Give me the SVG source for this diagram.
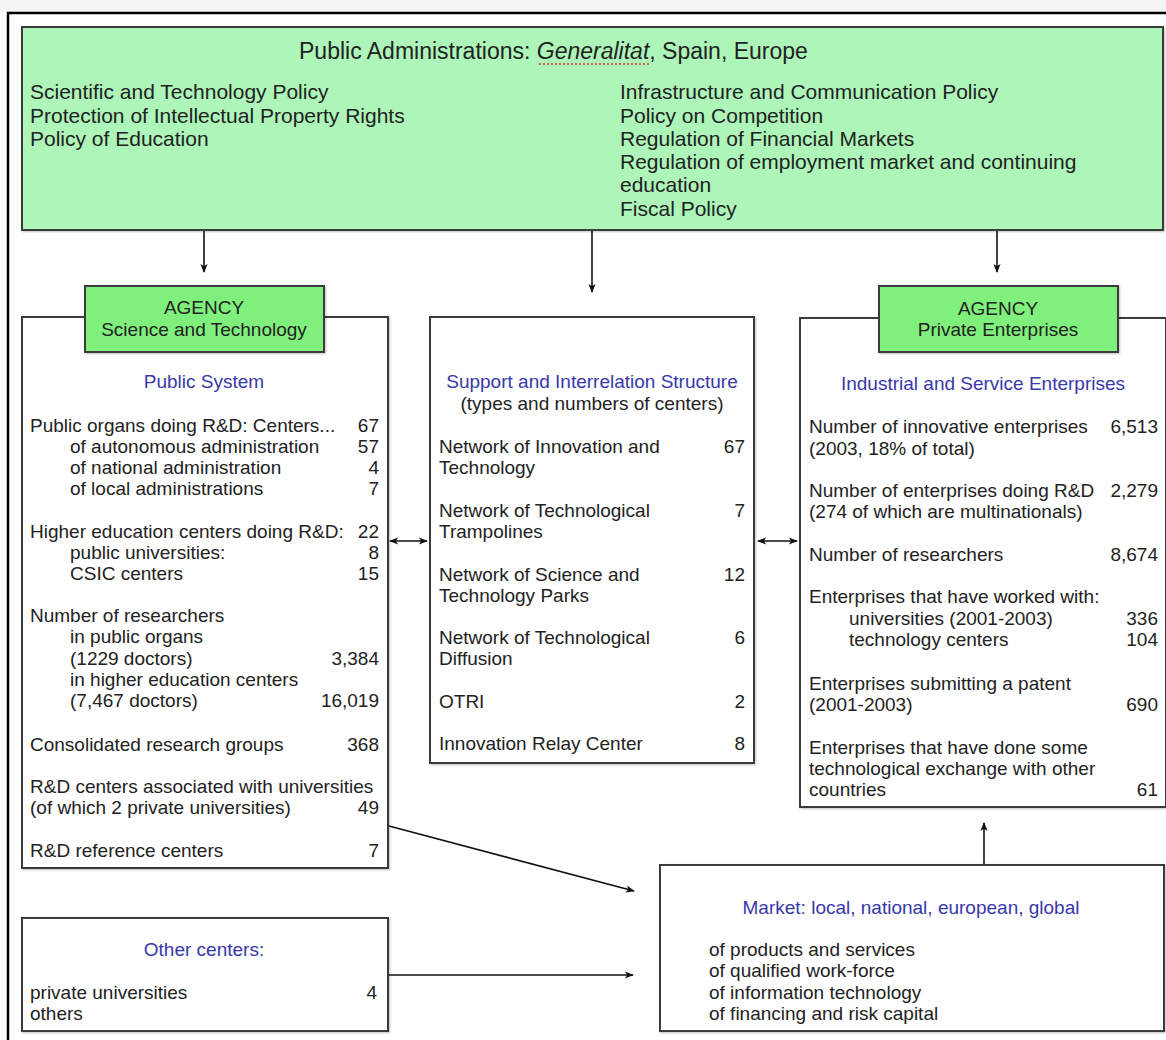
<svg xmlns="http://www.w3.org/2000/svg" width="1166" height="1040" viewBox="0 0 1166 1040">
  <style>
    text { font-family: "Liberation Sans", Arial, sans-serif; fill: #222; }
    .t { font-size: 19px; }
    .big { font-size: 21px; }
    .title { font-size: 23px; }
    .head { font-size: 19px; fill: #3838aa; text-anchor: middle; }
    .mid { text-anchor: middle; }
    .num { text-anchor: end; }
    .box { fill: #fff; stroke: #3a3a3a; stroke-width: 2; }
    .agency { fill: #80f07c; stroke: #3a3a3a; stroke-width: 2; }
    .policy { fill: #adf5b9; stroke: #3a3a3a; stroke-width: 2; }
    .conn { stroke: #111; stroke-width: 1.6; fill: none; }
  </style>
  <defs>
    <filter id="soft" x="-5%" y="-5%" width="110%" height="110%">
      <feDropShadow dx="1" dy="1" stdDeviation="1" flood-color="#000" flood-opacity="0.25"/>
    </filter>
    <marker id="ah" viewBox="0 0 10 10" refX="9" refY="5" markerWidth="10" markerHeight="9" orient="auto-start-reverse" markerUnits="userSpaceOnUse">
      <path d="M0,1 L10,5 L0,9 L2.5,5 z" fill="#111"/>
    </marker>
  </defs>

  <!-- page background and outer frame -->
  <rect x="0" y="0" width="1166" height="1040" fill="#fff"/>
  <rect x="0" y="0" width="1166" height="12" fill="#f3f3f3"/>
  <rect x="8" y="13" width="1170" height="1040" fill="#fff" stroke="#000" stroke-width="2.5"/>

  <!-- top policy box -->
  <g id="public-administrations">
    <rect class="policy" x="22" y="27" width="1141" height="203" filter="url(#soft)"/>
    <text class="title" x="299" y="59">Public Administrations: <tspan font-style="italic">Generalitat</tspan>, Spain, Europe</text>
    <line x1="539" y1="64" x2="649" y2="64" stroke="#d33" stroke-width="1.5" stroke-dasharray="2,2"/>
    <text class="big" x="30" y="99">Scientific and Technology Policy</text>
    <text class="big" x="30" y="123">Protection of Intellectual Property Rights</text>
    <text class="big" x="30" y="146">Policy of Education</text>
    <text class="big" x="620" y="99">Infrastructure and Communication Policy</text>
    <text class="big" x="620" y="123">Policy on Competition</text>
    <text class="big" x="620" y="146">Regulation of Financial Markets</text>
    <text class="big" x="620" y="169">Regulation of employment market and continuing</text>
    <text class="big" x="620" y="192">education</text>
    <text class="big" x="620" y="216">Fiscal Policy</text>
  </g>

  <!-- public system -->
  <g id="public-system">
    <rect class="box" x="22" y="317" width="366" height="551" filter="url(#soft)"/>
    <text class="head" x="204" y="388">Public System</text>
    <text class="t" x="30" y="432">Public organs doing R&amp;D: Centers...</text><text class="t num" x="379" y="432">67</text>
    <text class="t" x="70" y="453">of autonomous administration</text><text class="t num" x="379" y="453">57</text>
    <text class="t" x="70" y="474">of national administration</text><text class="t num" x="379" y="474">4</text>
    <text class="t" x="70" y="495">of local administrations</text><text class="t num" x="379" y="495">7</text>
    <text class="t" x="30" y="538">Higher education centers doing R&amp;D:</text><text class="t num" x="379" y="538">22</text>
    <text class="t" x="70" y="559">public universities:</text><text class="t num" x="379" y="559">8</text>
    <text class="t" x="70" y="580">CSIC centers</text><text class="t num" x="379" y="580">15</text>
    <text class="t" x="30" y="622">Number of researchers</text>
    <text class="t" x="70" y="643">in public organs</text>
    <text class="t" x="70" y="665">(1229 doctors)</text><text class="t num" x="379" y="665">3,384</text>
    <text class="t" x="70" y="686">in higher education centers</text>
    <text class="t" x="70" y="707">(7,467 doctors)</text><text class="t num" x="379" y="707">16,019</text>
    <text class="t" x="30" y="751">Consolidated research groups</text><text class="t num" x="379" y="751">368</text>
    <text class="t" x="30" y="793">R&amp;D centers associated with universities</text>
    <text class="t" x="30" y="814">(of which 2 private universities)</text><text class="t num" x="379" y="814">49</text>
    <text class="t" x="30" y="857">R&amp;D reference centers</text><text class="t num" x="379" y="857">7</text>
  </g>
  <g id="agency-science">
    <rect class="agency" x="85" y="286" width="239" height="66" filter="url(#soft)"/>
    <text class="t mid" x="204" y="314">AGENCY</text>
    <text class="t mid" x="204" y="336">Science and Technology</text>
  </g>

  <!-- support structure -->
  <g id="support-structure">
    <rect class="box" x="430" y="317" width="324" height="446" filter="url(#soft)"/>
    <text class="head" x="592" y="388">Support and Interrelation Structure</text>
    <text class="t mid" x="592" y="410">(types and numbers of centers)</text>
    <text class="t" x="439" y="453">Network of Innovation and</text><text class="t num" x="745" y="453">67</text>
    <text class="t" x="439" y="474">Technology</text>
    <text class="t" x="439" y="517">Network of Technological</text><text class="t num" x="745" y="517">7</text>
    <text class="t" x="439" y="538">Trampolines</text>
    <text class="t" x="439" y="581">Network of Science and</text><text class="t num" x="745" y="581">12</text>
    <text class="t" x="439" y="602">Technology Parks</text>
    <text class="t" x="439" y="644">Network of Technological</text><text class="t num" x="745" y="644">6</text>
    <text class="t" x="439" y="665">Diffusion</text>
    <text class="t" x="439" y="708">OTRI</text><text class="t num" x="745" y="708">2</text>
    <text class="t" x="439" y="750">Innovation Relay Center</text><text class="t num" x="745" y="750">8</text>
  </g>

  <!-- enterprises -->
  <g id="enterprises">
    <rect class="box" x="800" y="318" width="366" height="489" filter="url(#soft)"/>
    <text class="head" x="983" y="390">Industrial and Service Enterprises</text>
    <text class="t" x="809" y="433">Number of innovative enterprises</text><text class="t num" x="1158" y="433">6,513</text>
    <text class="t" x="809" y="455">(2003, 18% of total)</text>
    <text class="t" x="809" y="497">Number of enterprises doing R&amp;D</text><text class="t num" x="1158" y="497">2,279</text>
    <text class="t" x="809" y="518">(274 of which are multinationals)</text>
    <text class="t" x="809" y="561">Number of researchers</text><text class="t num" x="1158" y="561">8,674</text>
    <text class="t" x="809" y="603">Enterprises that have worked with:</text>
    <text class="t" x="849" y="625">universities (2001-2003)</text><text class="t num" x="1158" y="625">336</text>
    <text class="t" x="849" y="646">technology centers</text><text class="t num" x="1158" y="646">104</text>
    <text class="t" x="809" y="690">Enterprises submitting a patent</text>
    <text class="t" x="809" y="711">(2001-2003)</text><text class="t num" x="1158" y="711">690</text>
    <text class="t" x="809" y="754">Enterprises that have done some</text>
    <text class="t" x="809" y="775">technological exchange with other</text>
    <text class="t" x="809" y="796">countries</text><text class="t num" x="1158" y="796">61</text>
  </g>
  <g id="agency-private">
    <rect class="agency" x="879" y="286" width="239" height="66" filter="url(#soft)"/>
    <text class="t mid" x="998" y="315">AGENCY</text>
    <text class="t mid" x="998" y="336">Private Enterprises</text>
  </g>

  <!-- other centers -->
  <g id="other-centers">
    <rect class="box" x="22" y="918" width="366" height="113" filter="url(#soft)"/>
    <text class="head" x="204" y="956">Other centers:</text>
    <text class="t" x="30" y="999">private universities</text><text class="t num" x="377" y="999">4</text>
    <text class="t" x="30" y="1020">others</text>
  </g>

  <!-- market -->
  <g id="market">
    <rect class="box" x="660" y="865" width="504" height="166" filter="url(#soft)"/>
    <text class="head" x="911" y="914">Market: local, national, european, global</text>
    <text class="t" x="709" y="956">of products and services</text>
    <text class="t" x="709" y="977">of qualified work-force</text>
    <text class="t" x="709" y="999">of information technology</text>
    <text class="t" x="709" y="1020">of financing and risk capital</text>
  </g>

  <!-- connectors -->
  <g id="connectors">
    <line class="conn" x1="204" y1="231" x2="204" y2="272" marker-end="url(#ah)"/>
    <line class="conn" x1="592" y1="231" x2="592" y2="292" marker-end="url(#ah)"/>
    <line class="conn" x1="997" y1="231" x2="997" y2="272" marker-end="url(#ah)"/>
    <line class="conn" x1="390" y1="541" x2="427" y2="541" marker-start="url(#ah)" marker-end="url(#ah)"/>
    <line class="conn" x1="758" y1="541" x2="797" y2="541" marker-start="url(#ah)" marker-end="url(#ah)"/>
    <line class="conn" x1="389" y1="826" x2="634" y2="891" marker-end="url(#ah)"/>
    <line class="conn" x1="389" y1="975" x2="633" y2="975" marker-end="url(#ah)"/>
    <line class="conn" x1="984" y1="864" x2="984" y2="823" marker-end="url(#ah)"/>
  </g>
</svg>
